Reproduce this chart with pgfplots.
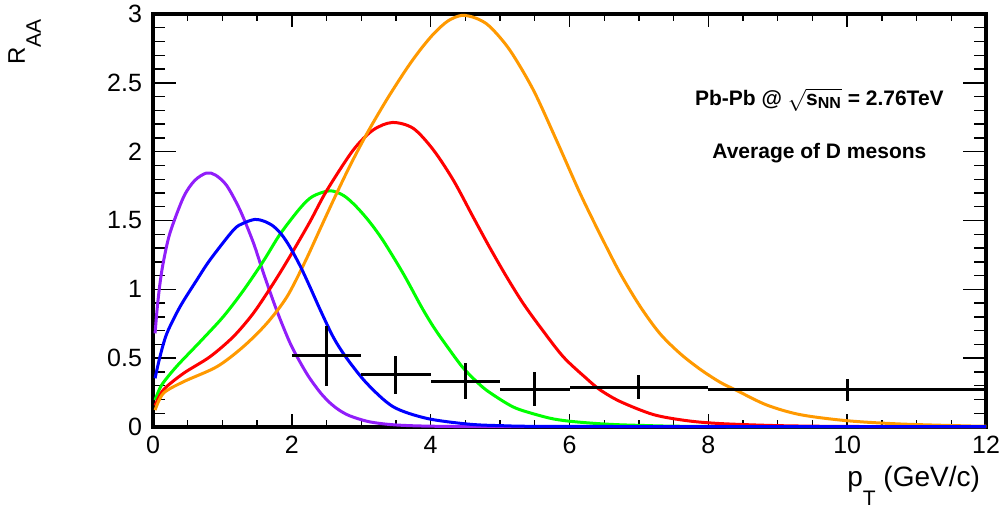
\documentclass[border=0pt]{standalone}
\usepackage{fontspec}
\setmainfont{Liberation Sans}
\usepackage{pgfplots}
\pgfplotsset{compat=1.18}
\definecolor{cviolet}{RGB}{145,30,250}
\definecolor{corange}{RGB}{255,153,0}

\begin{document}
\begin{tikzpicture}
\path[use as bounding box] (-76.5pt,-43.5pt) rectangle (424pt,213.5pt);
\begin{axis}[
    scale only axis,
    width=416.5pt, height=206.5pt,
    xmin=0, xmax=12, ymin=0, ymax=3,
    xtick={0,2,...,12}, ytick={0,0.5,...,3},
    minor x tick num=3, minor y tick num=4,
    tick align=inside,
    axis line style={line width=2pt},
    every tick/.style={black, line width=0.7pt},
    xtick style={/pgfplots/major tick length=6.5pt, /pgfplots/minor tick length=3.5pt},
    ytick style={/pgfplots/major tick length=11.5pt, /pgfplots/minor tick length=6pt},
    /pgf/number format/assume math mode=true,
    ticklabel style={font=\fontsize{12.5}{14}\selectfont},
    xticklabel style={yshift=-1pt},
    yticklabel style={xshift=-2pt},
    clip=false,
]
% model curves
\addplot[cviolet, line width=1.5pt, smooth] coordinates {
(0.03,0.68) (0.06,0.86) (0.10,1.04) (0.15,1.20) (0.245,1.41) (0.44,1.67)
(0.6,1.79) (0.77,1.845) (0.9,1.83) (1.06,1.755) (1.25,1.58) (1.445,1.34)
(1.59,1.12) (1.78,0.85) (1.97,0.615) (2.12,0.47) (2.25,0.36) (2.41,0.25)
(2.55,0.175) (2.69,0.12) (2.84,0.08) (3.08,0.042) (3.3,0.024) (3.56,0.013)
(4.0,0.006) (5,0.003) (12,0.002)
};
\addplot[green, line width=1.5pt, smooth] coordinates {
(0.03,0.196) (0.125,0.305) (0.34,0.44) (0.68,0.62) (1.01,0.80) (1.30,0.99)
(1.59,1.205) (1.83,1.40) (2.12,1.59) (2.3,1.675) (2.55,1.716) (2.75,1.68)
(2.93,1.60) (3.12,1.49) (3.32,1.35) (3.61,1.11) (3.87,0.87) (4.05,0.72)
(4.23,0.59) (4.45,0.44) (4.64,0.34) (4.81,0.265) (5.10,0.17) (5.29,0.125)
(5.7,0.066) (6.0,0.042) (6.49,0.022) (7,0.012) (8,0.004) (12,0.002)
};
\addplot[red, line width=1.5pt, smooth] coordinates {
(0.03,0.155) (0.15,0.27) (0.44,0.39) (0.82,0.51) (1.157,0.656) (1.445,0.826)
(1.73,1.04) (1.97,1.237) (2.26,1.49) (2.50,1.715) (2.885,2.012) (3.17,2.157)
(3.45,2.212) (3.75,2.169) (4.04,2.012) (4.33,1.79) (4.61,1.527)
(4.855,1.30) (5.095,1.09) (5.33,0.90) (5.575,0.728) (5.91,0.51) (6.25,0.35)
(6.44,0.27) (6.73,0.185) (7.21,0.09) (7.69,0.046) (8.17,0.025) (9,0.01)
(10,0.004) (12,0.002)
};
\addplot[corange, line width=1.5pt, smooth] coordinates {
(0.03,0.123) (0.15,0.245) (0.44,0.329) (0.92,0.438) (1.30,0.583) (1.64,0.753)
(1.93,0.946) (2.19,1.20) (2.40,1.43) (2.62,1.67) (2.84,1.90) (3.08,2.13)
(3.37,2.38) (3.65,2.60) (3.85,2.74) (4.05,2.86) (4.25,2.95) (4.45,2.99)
(4.65,2.97) (4.85,2.91) (5.14,2.738) (5.48,2.447) (5.815,2.08) (6.15,1.70)
(6.44,1.40) (6.73,1.116) (7.02,0.874) (7.30,0.68) (7.59,0.535) (7.88,0.42)
(8.17,0.325) (8.41,0.265) (8.84,0.16) (9.32,0.09) (9.99,0.046) (10.76,0.022)
(11.72,0.008) (12,0.006)
};
\addplot[blue, line width=1.5pt, smooth] coordinates {
(0.03,0.354) (0.10,0.51) (0.2,0.68) (0.39,0.874) (0.63,1.067) (0.82,1.213)
(1.157,1.43) (1.3,1.48) (1.47,1.508) (1.6,1.495) (1.73,1.46) (1.85,1.40)
(1.97,1.31) (2.12,1.17) (2.25,1.03) (2.41,0.85) (2.6,0.65) (2.79,0.50)
(3.08,0.317) (3.46,0.147) (3.94,0.063) (4.52,0.022) (5,0.01) (6,0.004)
(12,0.003)
};
% measured D-meson RAA
\addplot[draw=none, mark=none,
    error bars/.cd, x dir=both, x explicit, y dir=both, y explicit,
    error mark=none, error bar style={draw=black, line width=1.5pt}]
  table[x=x, y=y, x error=ex, y error=ey] {
x    y     ex   ey
2.5  0.516 0.5  0.22
3.5  0.378 0.5  0.14
4.5  0.334 0.5  0.13
5.5  0.276 0.5  0.12
7    0.29  1    0.09
10   0.27  2    0.08
};
\node[anchor=base, font=\bfseries\fontsize{10.5}{12}\selectfont] at (axis cs:9.6,2.338)
  {Pb-Pb @ $\sqrt{\mbox{s}_{\mbox{\fontsize{8}{8}\selectfont\bfseries NN}}}$ = 2.76TeV};
\node[anchor=base, font=\bfseries\fontsize{10.5}{12}\selectfont] at (axis cs:9.6,1.953)
  {Average of D mesons};
\end{axis}
\node[anchor=base east, font=\fontsize{14}{15}\selectfont] at (417pt,-30pt)
  {p\raisebox{-9pt}{\fontsize{10.5}{10}\selectfont T} (GeV/c)};
\node[rotate=90, anchor=base east, font=\fontsize{12}{14}\selectfont] at (-64pt,207.5pt)
  {R\raisebox{-8pt}{\fontsize{10.5}{10}\selectfont AA}};
\end{tikzpicture}
\end{document}
